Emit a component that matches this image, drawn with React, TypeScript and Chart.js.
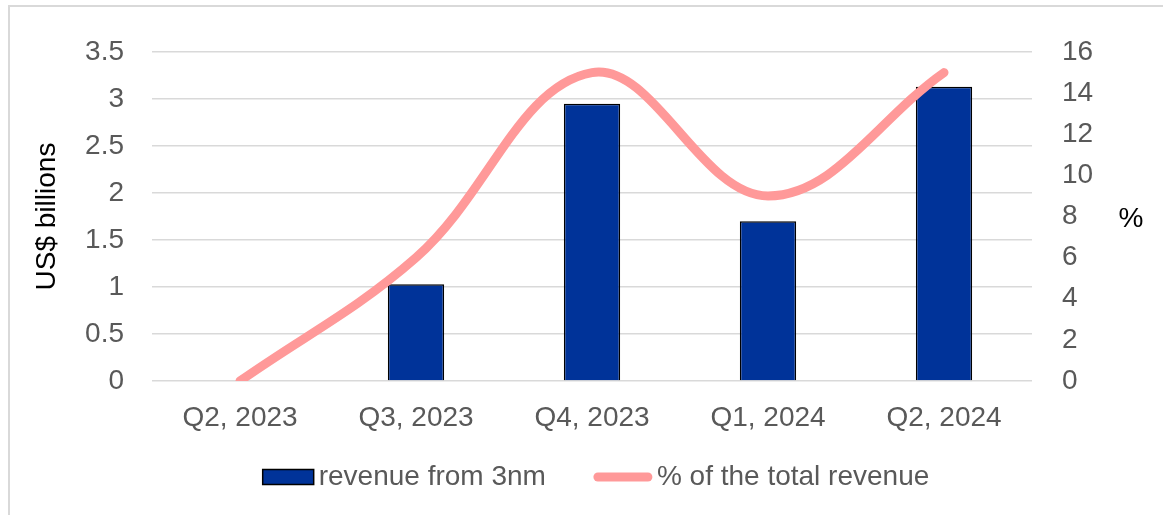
import React, { useEffect, useRef } from "react";
import { Chart, registerables } from "chart.js";

Chart.register(...registerables);

const categories = ["Q2, 2023", "Q3, 2023", "Q4, 2023", "Q1, 2024", "Q2, 2024"];
const revenueBillions = [0, 1.03, 2.95, 1.7, 3.13];
const sharePercent = [0, 6, 15, 9, 15];
const leftTicks = [0, 0.5, 1, 1.5, 2, 2.5, 3, 3.5];
const rightTicks = [0, 2, 4, 6, 8, 10, 12, 14, 16];
const seriesNames = ["revenue from 3nm", "% of the total revenue"];

const FONT = "'Liberation Sans', Arial, sans-serif";
const FONT_SIZE = 28;
const BAR_COLOR = "#003399";
const LINE_COLOR = "#FF9999";
const TICK_COLOR = "#595959";
const GRID_COLOR = "#d9d9d9";

const percentTitle = {
  id: "percentTitle",
  afterDraw(chart: any) {
    const { ctx } = chart;
    ctx.save();
    ctx.font = `${FONT_SIZE}px ${FONT}`;
    ctx.fillStyle = "#000000";
    ctx.textAlign = "center";
    ctx.textBaseline = "middle";
    ctx.fillText("%", 1131, 219);
    ctx.restore();
  },
};

// legend drawn on the canvas, centred under the chart
const bottomLegend = {
  id: "bottomLegend",
  afterDraw(chart: any) {
    const { ctx } = chart;
    ctx.save();
    ctx.font = `${FONT_SIZE}px ${FONT}`;
    const boxW = 51;
    const boxH = 15;
    const lineW = 50;
    const gapText = 5;
    const gapItem = 48;
    const w1 = ctx.measureText(seriesNames[0]).width;
    const w2 = ctx.measureText(seriesNames[1]).width;
    const total = boxW + gapText + w1 + gapItem + (lineW + 8) + gapText + w2;
    const centerX = 596;
    const cy = 477;
    let x = centerX - total / 2;
    ctx.fillStyle = BAR_COLOR;
    ctx.fillRect(x, cy - boxH / 2, boxW, boxH);
    ctx.strokeStyle = "#000000";
    ctx.lineWidth = 1.5;
    ctx.strokeRect(x, cy - boxH / 2, boxW, boxH);
    x += boxW + gapText;
    ctx.fillStyle = TICK_COLOR;
    ctx.textAlign = "left";
    ctx.textBaseline = "middle";
    ctx.fillText(seriesNames[0], x, cy);
    x += w1 + gapItem;
    ctx.strokeStyle = LINE_COLOR;
    ctx.lineWidth = 9;
    ctx.lineCap = "round";
    ctx.beginPath();
    ctx.moveTo(x + 4, cy);
    ctx.lineTo(x + 4 + lineW, cy);
    ctx.stroke();
    x += lineW + 8 + gapText;
    ctx.fillStyle = TICK_COLOR;
    ctx.fillText(seriesNames[1], x, cy);
    ctx.restore();
  },
};

export default function App() {
  const canvasRef = useRef<HTMLCanvasElement | null>(null);

  useEffect(() => {
    if (!canvasRef.current) return;
    const chart = new Chart(canvasRef.current, {
      type: "bar",
      data: {
        labels: categories,
        datasets: [
          {
            type: "bar",
            label: seriesNames[0],
            data: revenueBillions,
            backgroundColor: BAR_COLOR,
            borderColor: "#000000",
            borderWidth: 1.5,
            borderSkipped: "bottom",
            barPercentage: 0.32,
            categoryPercentage: 1,
            yAxisID: "y",
            order: 1,
          },
          {
            type: "line",
            label: seriesNames[1],
            data: sharePercent,
            borderColor: LINE_COLOR,
            backgroundColor: LINE_COLOR,
            borderWidth: 9,
            borderCapStyle: "round",
            borderJoinStyle: "round",
            tension: 0.38,
            pointRadius: 0,
            pointHoverRadius: 0,
            fill: false,
            clip: 0,
            yAxisID: "y1",
            order: 0,
          } as any,
        ],
      },
      options: {
        responsive: false,
        animation: false,
        events: [],
        layout: { padding: { top: 52, left: 30, right: 1, bottom: 61 } },
        scales: {
          x: {
            grid: { display: false, drawTicks: false },
            border: { display: false },
            ticks: {
              color: TICK_COLOR,
              font: { family: FONT, size: FONT_SIZE },
              padding: 20,
              maxRotation: 0,
            },
            afterFit: (s: any) => {
              s.height = 73;
            },
          },
          y: {
            position: "left",
            min: 0,
            max: 3.5,
            afterBuildTicks: (s: any) => {
              s.ticks = leftTicks.map((v) => ({ value: v }));
            },
            grid: { color: GRID_COLOR, lineWidth: 1.5, drawTicks: false },
            border: { display: false },
            ticks: {
              color: TICK_COLOR,
              font: { family: FONT, size: FONT_SIZE },
              padding: 28,
              callback: (v: any) => String(v),
            },
            title: {
              display: true,
              text: "US$ billions",
              color: "#000000",
              font: { family: FONT, size: FONT_SIZE },
              padding: 0,
            },
            afterFit: (s: any) => {
              s.width = 122;
            },
          },
          y1: {
            position: "right",
            min: 0,
            max: 16,
            afterBuildTicks: (s: any) => {
              s.ticks = rightTicks.map((v) => ({ value: v }));
            },
            grid: { display: false, drawTicks: false },
            border: { display: false },
            ticks: {
              color: TICK_COLOR,
              font: { family: FONT, size: FONT_SIZE },
              padding: 30,
              callback: (v: any) => String(v),
            },
            afterFit: (s: any) => {
              s.width = 130;
            },
          },
        },
        plugins: {
          tooltip: { enabled: false },
          legend: { display: false },
        },
      },
      plugins: [percentTitle, bottomLegend],
    });
    return () => chart.destroy();
  }, []);

  return (
    <div style={{ position: "absolute", left: 0, top: 0, width: 1163, height: 515, overflow: "hidden", background: "#ffffff" }}>
      <div
        style={{
          position: "absolute",
          left: 8,
          top: 5,
          width: 1163,
          height: 515,
          borderTop: "2px solid #d9d9d9",
          borderLeft: "2px solid #d9d9d9",
        }}
      />
      <canvas ref={canvasRef} width={1163} height={515} style={{ position: "absolute", left: 0, top: 0 }} />
    </div>
  );
}
